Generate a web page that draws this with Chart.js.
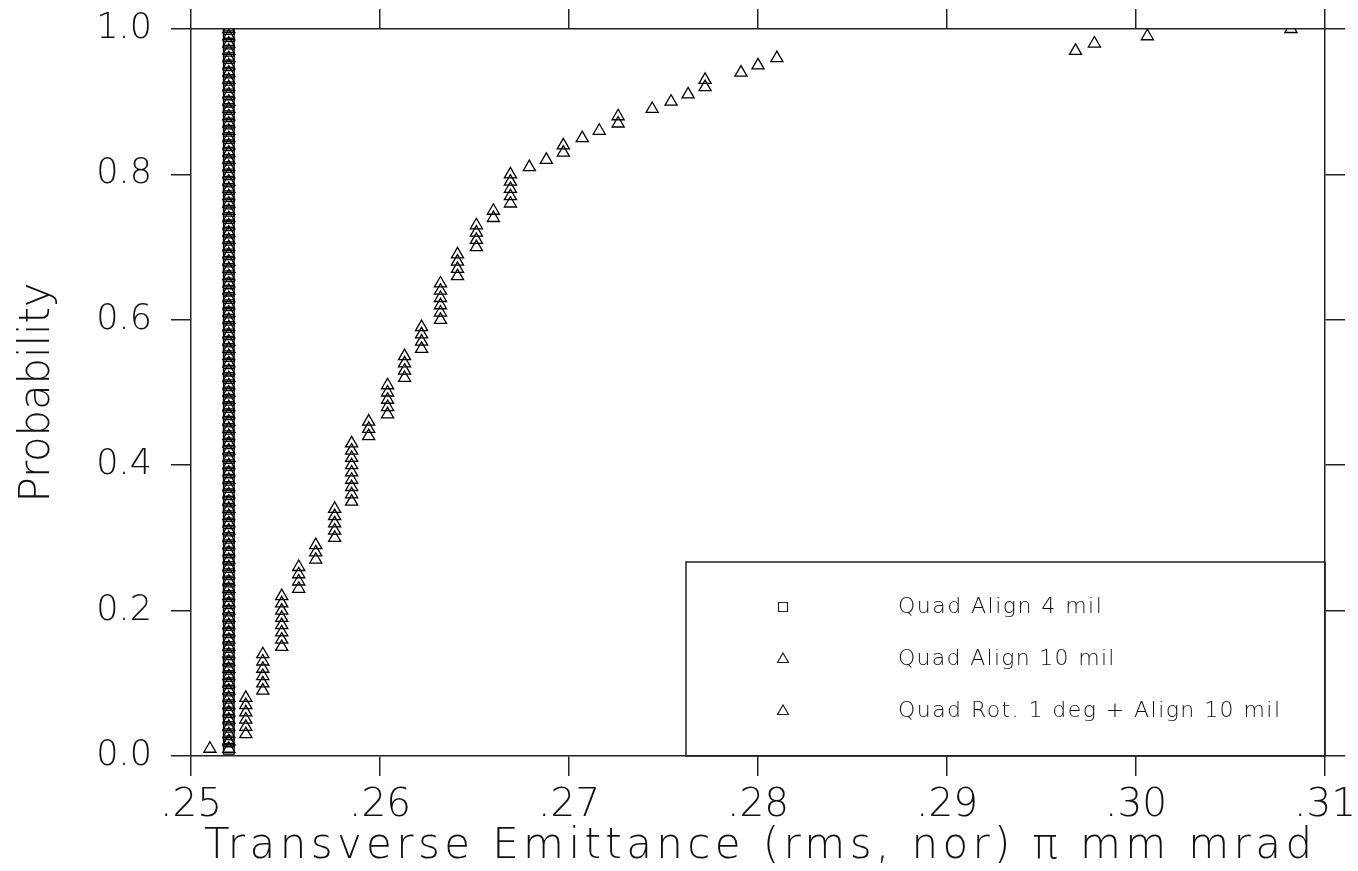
<!DOCTYPE html>
<html>
<head>
<meta charset="utf-8">
<title>Transverse emittance probability</title>
<script src="https://cdn.jsdelivr.net/npm/chart.js@4.4.0/dist/chart.umd.min.js"></script>
<style>
  html, body { margin: 0; padding: 0; background: #fff; }
  #chart { display: block; }
</style>
</head>
<body>
<canvas id="chart" width="1358" height="871"></canvas>
<script>
// ── Data ──────────────────────────────────────────────────────
const SERIES_LABELS = ['Quad Align 4 mil', 'Quad Align 10 mil', 'Quad Rot. 1 deg + Align 10 mil'];

// cumulative probability levels (same for every series)
const PROB = [
  0.01, 0.02, 0.03, 0.04, 0.05, 0.06, 0.07, 0.08, 0.09, 0.10,
  0.11, 0.12, 0.13, 0.14, 0.15, 0.16, 0.17, 0.18, 0.19, 0.20,
  0.21, 0.22, 0.23, 0.24, 0.25, 0.26, 0.27, 0.28, 0.29, 0.30,
  0.31, 0.32, 0.33, 0.34, 0.35, 0.36, 0.37, 0.38, 0.39, 0.40,
  0.41, 0.42, 0.43, 0.44, 0.45, 0.46, 0.47, 0.48, 0.49, 0.50,
  0.51, 0.52, 0.53, 0.54, 0.55, 0.56, 0.57, 0.58, 0.59, 0.60,
  0.61, 0.62, 0.63, 0.64, 0.65, 0.66, 0.67, 0.68, 0.69, 0.70,
  0.71, 0.72, 0.73, 0.74, 0.75, 0.76, 0.77, 0.78, 0.79, 0.80,
  0.81, 0.82, 0.83, 0.84, 0.85, 0.86, 0.87, 0.88, 0.89, 0.90,
  0.91, 0.92, 0.93, 0.94, 0.95, 0.96, 0.97, 0.98, 0.99, 1.00
];

// emittance for each probability level
const EMIT_ALIGN_4 = [
  0.252, 0.252, 0.252, 0.252, 0.252, 0.252, 0.252, 0.252, 0.252, 0.252,
  0.252, 0.252, 0.252, 0.252, 0.252, 0.252, 0.252, 0.252, 0.252, 0.252,
  0.252, 0.252, 0.252, 0.252, 0.252, 0.252, 0.252, 0.252, 0.252, 0.252,
  0.252, 0.252, 0.252, 0.252, 0.252, 0.252, 0.252, 0.252, 0.252, 0.252,
  0.252, 0.252, 0.252, 0.252, 0.252, 0.252, 0.252, 0.252, 0.252, 0.252,
  0.252, 0.252, 0.252, 0.252, 0.252, 0.252, 0.252, 0.252, 0.252, 0.252,
  0.252, 0.252, 0.252, 0.252, 0.252, 0.252, 0.252, 0.252, 0.252, 0.252,
  0.252, 0.252, 0.252, 0.252, 0.252, 0.252, 0.252, 0.252, 0.252, 0.252,
  0.252, 0.252, 0.252, 0.252, 0.252, 0.252, 0.252, 0.252, 0.252, 0.252,
  0.252, 0.252, 0.252, 0.252, 0.252, 0.252, 0.252, 0.252, 0.252, 0.252
];
const EMIT_ALIGN_10 = [
  0.252, 0.252, 0.252, 0.252, 0.252, 0.252, 0.252, 0.252, 0.252, 0.252,
  0.252, 0.252, 0.252, 0.252, 0.252, 0.252, 0.252, 0.252, 0.252, 0.252,
  0.252, 0.252, 0.252, 0.252, 0.252, 0.252, 0.252, 0.252, 0.252, 0.252,
  0.252, 0.252, 0.252, 0.252, 0.252, 0.252, 0.252, 0.252, 0.252, 0.252,
  0.252, 0.252, 0.252, 0.252, 0.252, 0.252, 0.252, 0.252, 0.252, 0.252,
  0.252, 0.252, 0.252, 0.252, 0.252, 0.252, 0.252, 0.252, 0.252, 0.252,
  0.252, 0.252, 0.252, 0.252, 0.252, 0.252, 0.252, 0.252, 0.252, 0.252,
  0.252, 0.252, 0.252, 0.252, 0.252, 0.252, 0.252, 0.252, 0.252, 0.252,
  0.252, 0.252, 0.252, 0.252, 0.252, 0.252, 0.252, 0.252, 0.252, 0.252,
  0.252, 0.252, 0.252, 0.252, 0.252, 0.252, 0.252, 0.252, 0.252, 0.252
];
const EMIT_ROT = [
  0.2510, 0.2520, 0.2529, 0.2529, 0.2529, 0.2529, 0.2529, 0.2529, 0.2538, 0.2538,
  0.2538, 0.2538, 0.2538, 0.2538, 0.2548, 0.2548, 0.2548, 0.2548, 0.2548, 0.2548,
  0.2548, 0.2548, 0.2557, 0.2557, 0.2557, 0.2557, 0.2566, 0.2566, 0.2566, 0.2576,
  0.2576, 0.2576, 0.2576, 0.2576, 0.2585, 0.2585, 0.2585, 0.2585, 0.2585, 0.2585,
  0.2585, 0.2585, 0.2585, 0.2594, 0.2594, 0.2594, 0.2604, 0.2604, 0.2604, 0.2604,
  0.2604, 0.2613, 0.2613, 0.2613, 0.2613, 0.2622, 0.2622, 0.2622, 0.2622, 0.2632,
  0.2632, 0.2632, 0.2632, 0.2632, 0.2632, 0.2641, 0.2641, 0.2641, 0.2641, 0.2651,
  0.2651, 0.2651, 0.2651, 0.2660, 0.2660, 0.2669, 0.2669, 0.2669, 0.2669, 0.2669,
  0.2679, 0.2688, 0.2697, 0.2697, 0.2707, 0.2716, 0.2726, 0.2726, 0.2744, 0.2754,
  0.2763, 0.2772, 0.2772, 0.2791, 0.2800, 0.2810, 0.2968, 0.2978, 0.3006, 0.3082
];

const X_MIN = 0.25, X_MAX = 0.31, X_STEP = 0.01;
const Y_MIN = 0, Y_MAX = 1, Y_STEP = 0.2;

// ── Style ─────────────────────────────────────────────────────
const FONT = "'DejaVu Sans', 'Lato', sans-serif";
const INK = '#111';
const LINE = '#222';

const toPoints = (xs) => xs.map((x, i) => ({ x, y: PROB[i] }));

// stretch a string so it spans a given width, drawn from its left edge
function spacedText(ctx, text, x, y, width) {
  ctx.letterSpacing = '0px';
  const w = ctx.measureText(text).width;
  const sp = (width - w) / (text.length - 1);
  ctx.letterSpacing = sp.toFixed(2) + 'px';
  ctx.textAlign = 'left';
  ctx.fillText(text, x, y);
  ctx.letterSpacing = '0px';
}

// ── Titles + boxed legend ─────────────────────────────────────
const decorations = {
  id: 'decorations',
  afterDraw(chart) {
    const { ctx, chartArea: a } = chart;
    ctx.save();
    ctx.fillStyle = INK;

    // x title
    ctx.font = `200 42px ${FONT}`;
    ctx.textBaseline = 'alphabetic';
    const cx = (a.left + a.right) / 2;
    spacedText(ctx, 'Transverse Emittance (rms, nor) \u03c0 mm mrad', cx - 554, a.bottom + 102, 1108);

    // y title
    ctx.save();
    ctx.translate(49, (a.top + a.bottom) / 2);
    ctx.rotate(-Math.PI / 2);
    spacedText(ctx, 'Probability', -110, 0, 220);
    ctx.restore();

    // legend box
    const bx = a.right - 639, by = a.bottom - 194;
    ctx.strokeStyle = LINE;
    ctx.lineWidth = 1.5;
    ctx.strokeRect(bx, by, a.right - bx, a.bottom - by);

    ctx.font = `200 22px ${FONT}`;
    ctx.textBaseline = 'middle';
    const mx = bx + 97, tx = bx + 212;
    chart.data.datasets.forEach((ds, i) => {
      const ry = by + 45 + i * 52;
      ctx.lineWidth = 1.2;
      ctx.beginPath();
      if (ds.pointStyle === 'rect') {
        ctx.rect(mx - 4.5, ry - 4.5, 9, 9);
      } else {
        ctx.moveTo(mx, ry - 6);
        ctx.lineTo(mx + 5.5, ry + 3.5);
        ctx.lineTo(mx - 5.5, ry + 3.5);
        ctx.closePath();
      }
      ctx.stroke();
      const full = 382 * ds.label.length / SERIES_LABELS[2].length;
      spacedText(ctx, ds.label, tx, ry, i === 2 ? 382 : full);
    });
    ctx.restore();
  }
};

// ── Chart ─────────────────────────────────────────────────────
function marker(style, label, xs, radius) {
  return {
    label,
    data: toPoints(xs),
    pointStyle: style,
    pointRadius: radius,
    pointHoverRadius: radius,
    pointBorderColor: '#000',
    pointBackgroundColor: 'rgba(0,0,0,0)',
    pointBorderWidth: 1.3,
    showLine: false
  };
}

const edgeGrid = { drawOnChartArea: false, drawTicks: true, tickLength: 20, color: LINE, lineWidth: 1.5 };
const edgeBorder = { display: true, color: LINE, width: 1.5 };

// fixed box sizes so the plot frame lands where the original's does
const fixHeight = (h) => (s) => { s.height = h; s.paddingLeft = 0; s.paddingRight = 0; };
const fixWidth = (w) => (s) => { s.width = w; s.paddingTop = 0; s.paddingBottom = 0; };

new Chart(document.getElementById('chart'), {
  type: 'scatter',
  data: {
    datasets: [
      marker('rect', SERIES_LABELS[0], EMIT_ALIGN_4, 7.5),
      marker('triangle', SERIES_LABELS[1], EMIT_ALIGN_10, 7),
      marker('triangle', SERIES_LABELS[2], EMIT_ROT, 7)
    ]
  },
  options: {
    responsive: false,
    animation: false,
    events: [],
    layout: { padding: 0 },
    plugins: { legend: { display: false }, tooltip: { enabled: false } },
    scales: {
      x: {
        type: 'linear', position: 'bottom', min: X_MIN, max: X_MAX,
        ticks: {
          stepSize: X_STEP, autoSkip: false, maxRotation: 0, padding: 6, color: INK,
          font: { family: FONT, size: 39, weight: 200 },
          callback: v => '.' + v.toFixed(2).split('.')[1]
        },
        grid: edgeGrid, border: edgeBorder,
        afterFit: fixHeight(115)
      },
      x2: {
        type: 'linear', position: 'top', min: X_MIN, max: X_MAX,
        ticks: { stepSize: X_STEP, display: false },
        grid: edgeGrid, border: edgeBorder,
        afterFit: fixHeight(29)
      },
      y: {
        type: 'linear', position: 'left', min: Y_MIN, max: Y_MAX,
        ticks: {
          stepSize: Y_STEP, padding: 19, color: INK,
          font: { family: FONT, size: 35, weight: 200 },
          callback: v => v.toFixed(1)
        },
        grid: edgeGrid, border: edgeBorder,
        afterFit: fixWidth(191)
      },
      y2: {
        type: 'linear', position: 'right', min: Y_MIN, max: Y_MAX,
        ticks: { stepSize: Y_STEP, display: false },
        grid: edgeGrid, border: edgeBorder,
        afterFit: fixWidth(33)
      }
    }
  },
  plugins: [decorations]
});
</script>
</body>
</html>
